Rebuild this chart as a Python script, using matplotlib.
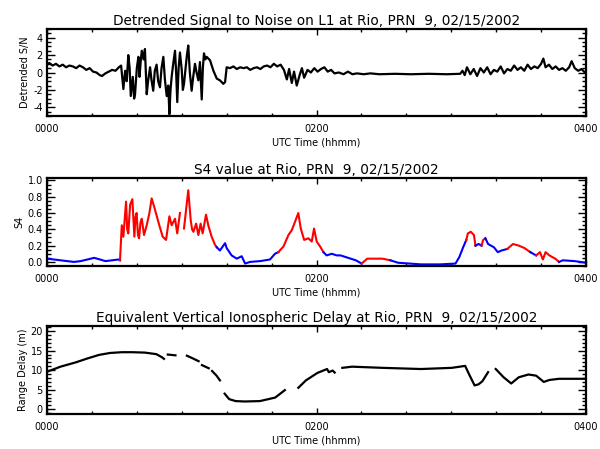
import numpy as np
import matplotlib
matplotlib.use("Agg")
import matplotlib.pyplot as plt
from matplotlib.ticker import MultipleLocator, FormatStrFormatter

# ---------------- data (time in minutes after 0000 UTC) ----------------
snr_t = [0, 1, 2.5, 4, 5.5, 7, 8.5, 10, 11.5, 13, 14.5, 16, 17.5, 19, 20.5, 22, 23.5, 24.5,
         26, 27.5, 29, 30.5, 32, 33,
         34, 34.8, 35.5, 36.2, 36.8, 37.3, 38.2, 38.8, 39.2, 40.0, 40.7, 41.2, 41.7, 42.2,
         43.0, 43.6, 44.4, 45.0, 45.9, 46.5, 47.3, 48.0, 48.8, 49.5, 50.3, 51.0, 51.8, 52.5,
         53.3, 54.0, 54.5, 55.0, 55.5, 56.2, 57.0, 57.5, 58.0, 58.6, 59.2, 60.0, 60.5, 61.0,
         61.8, 62.3, 62.9, 63.6, 64.4, 65.1, 65.9, 66.6, 67.4, 68.1, 68.9, 69.4, 69.9, 70.5,
         71.1, 72.6, 74.1, 75.6, 77.0, 78.5, 79.3, 80.0,
         81.5, 83, 84.5, 86, 87.5, 89, 90.5, 92, 93.5, 95, 96.5, 98, 99.5, 101, 102.5, 104,
         105.5, 106.8, 107.8, 109, 110, 111.2, 112.5, 113.5, 114.5, 116, 117.5, 119, 120.5,
         122, 123.5, 125, 126.5, 128, 130, 132, 134, 136, 138, 141, 144, 148, 155, 162, 170,
         178, 184, 185, 186, 187, 188.5, 190, 191.5, 193, 194.5, 196, 197.5, 199, 200.5, 202,
         203.5, 205, 206.5, 208, 209.5, 211, 212.5, 214, 215.5, 217, 218.5, 220, 221, 222,
         223.5, 225, 226.5, 228, 229.5, 231, 232.5, 233.6, 235, 236.5, 238, 239.5, 240]
snr_v = [0.9, 1.1, 0.8, 1.0, 0.7, 0.9, 0.6, 0.8, 0.7, 0.5, 0.8, 0.6, 0.3, 0.5, 0.1, 0.0, -0.3, -0.4,
         -0.1, 0.1, 0.3, 0.2, 0.6, 0.8,
         -1.9, 0.2, -1.0, 2.0, 0.5, -2.7, -0.5, -3.0, -2.5, 0.5, 1.8, -0.5, 1.2, 2.5,
         1.5, 2.7, -2.5, -1.0, 0.6, -0.8, -2.1, 0.2, 0.9, -1.0, -1.7, 0.5, 1.8, -0.8,
         -2.7, -1.5, -4.8, -2.0, -0.5, 1.0, 2.5, 0.0, -3.4, 0.5, 2.3, 0.3, -2.0, -1.3,
         0.8, 2.0, 3.1, 0.0, -2.1, -0.5, 1.0, 0.0, -0.9, 1.2, -3.1, 0.5, 2.2, 1.5,
         1.8, 1.4, 0.2, -0.7, -0.9, -1.3, -1.1, 0.6,
         0.5, 0.7, 0.4, 0.6, 0.5, 0.6, 0.3, 0.5, 0.6, 0.4, 0.7, 0.8, 0.6, 1.0, 0.7, 0.9,
         0.3, -0.8, 0.4, -1.2, 0.1, -1.5, -0.3, 0.5, -0.6, 0.3, 0.0, 0.5, 0.1,
         0.4, 0.6, 0.1, 0.3, -0.1, 0.0, -0.2, 0.1, -0.2, -0.1, -0.2, -0.1, -0.2, -0.15, -0.2, -0.15,
         -0.2, -0.15, 0.2, -0.3, 0.6, -0.2, 0.4, -0.4, 0.5, 0.0, 0.6, -0.2, 0.3, 0.1, 0.7,
         -0.1, 0.4, 0.2, 0.8, 0.3, 0.6, 0.2, 0.9, 0.4, 0.7, 0.5, 1.0, 1.6, 0.6,
         0.9, 0.4, 0.7, 0.3, 0.5, 0.2, 0.6, 1.3, 0.5, 0.2, 0.4, 0.0, 0.1]

s4_t = [0, 3, 6, 9, 12, 15, 18, 21, 23.6, 26, 29, 31.8, 32.5, 33.3, 34.0, 35.2, 35.7, 36.2,
        37.0, 38.0, 38.9, 39.4, 39.9, 40.5, 41.0, 41.6, 42.2, 43.2, 44.4, 45.6, 46.6, 48.1,
        50.0, 51.5, 53.0, 54.5, 55.5, 57.0, 58.0, 59.2, 60.0, 61.0, 62.9, 64.0, 64.6, 65.2,
        66.4, 67.4, 68.4, 69.3, 70.8, 71.8, 73.3, 74.8, 75.6, 77.0, 78.5, 79.3, 80.0, 82.2,
        84.5, 86.7, 88.2, 90.4, 94.9, 99.3, 101.5, 103.0, 105.3, 107.5, 109.0, 110.4, 111.9,
        113.0, 114.5, 116.4, 117.9, 118.9, 120.1, 121.6, 123.1, 124.5, 126.8, 129.0, 130.7,
        134.1, 137.5, 140.1, 142.6, 149.4, 152.9, 156.3, 166.5, 175.1, 181.9, 183.6, 185.3,
        186.7, 187.4, 188.7, 190.1, 190.8, 192.2, 193.5, 194.2, 195.2, 196.4, 199.0, 200.7,
        202.4, 205.0, 205.8, 207.5, 210.1, 212.6, 215.2, 217.8, 219.5, 220.8, 222.0, 223.7,
        226.3, 228.0, 229.7, 234.9, 240]
s4_v = [0.04, 0.03, 0.02, 0.01, 0.00, 0.01, 0.03, 0.05, 0.03, 0.01, 0.02, 0.03, 0.02, 0.45, 0.31,
        0.74, 0.40, 0.35, 0.70, 0.77, 0.31, 0.55, 0.60, 0.33, 0.29, 0.48, 0.53, 0.33,
        0.45, 0.60, 0.78, 0.64, 0.45, 0.31, 0.27, 0.56, 0.45, 0.53, 0.35, 0.60, np.nan,
        0.41, 0.88, 0.51, 0.40, 0.37, 0.47, 0.33, 0.47, 0.35, 0.58, 0.45, 0.31, 0.21, 0.18,
        0.14, 0.20, 0.23, 0.17, 0.08, 0.04, 0.07, -0.02, 0.0, 0.01, 0.03, 0.10, 0.12, 0.19,
        0.33, 0.39, 0.49, 0.60, 0.41, 0.27, 0.29, 0.25, 0.41, 0.25, 0.19, 0.12, 0.08, 0.10,
        0.08, 0.08, 0.05, 0.02, -0.02, 0.04, 0.04, 0.02, -0.01, -0.03, -0.03, -0.02, 0.06,
        0.18, 0.27, 0.35, 0.37, 0.33, 0.20, 0.22, 0.20, 0.27, 0.29, 0.22, 0.18, 0.12, 0.14,
        0.16, 0.18, 0.22, 0.20, 0.17, 0.12, 0.08, 0.12, 0.03, 0.12, 0.08, 0.04, 0.00, 0.02,
        0.01, -0.01]
s4_c = ['b', 'b', 'b', 'b', 'b', 'b', 'b', 'b', 'b', 'b', 'b', 'b', 'r', 'r', 'r', 'r', 'r', 'r',
        'r', 'r', 'r', 'r', 'r', 'r', 'r', 'r', 'r', 'r', 'r', 'r', 'r', 'r',
        'r', 'r', 'r', 'r', 'r', 'r', 'r', 'r', 'r', 'r', 'r', 'r', 'r', 'r',
        'r', 'r', 'r', 'r', 'r', 'r', 'r', 'r',
        'b', 'b', 'b', 'b', 'b', 'b', 'b', 'b', 'b', 'b', 'b', 'b', 'b',
        'r', 'r', 'r', 'r', 'r', 'r', 'r', 'r', 'r', 'r', 'r', 'r', 'r',
        'b', 'b', 'b', 'b', 'b', 'b', 'b', 'r', 'r', 'r', 'b',
        'b', 'b', 'b', 'b', 'b', 'b', 'r', 'r', 'r', 'r', 'b', 'b',
        'r', 'r', 'b', 'b', 'b', 'b', 'b', 'r', 'r', 'r', 'r', 'r',
        'b', 'r', 'r', 'r', 'r', 'r', 'r', 'b', 'b', 'b', 'b']

delay_t = [0, 6, 12.8, 18, 23.1, 28, 33.3, 38, 43.6, 48.7, 51.2, 52.1, 52.9, 53.8, 57.2, 59.5,
           62.3, 65, 67.5, 68.2, 69.0, 72.0, 72.8, 73.5, 75.5, 77.0, 78.0, 79.1, 81.1, 84,
           88.0, 94.8, 101.6, 105.9, 108.5, 111.9, 115.3, 120.4, 124.7, 125.5, 127.2, 128.1,
           129.8, 131.5, 135.8, 149.5, 166.5, 180.2, 186.2, 187.9, 190.4, 192.2, 193.9, 196.4,
           198.0, 199.8, 203.3, 206.7, 210.1, 214.4, 217.8, 221.2, 223.7, 228.0, 240]
delay_v = [9.6, 10.9, 12.0, 13.0, 13.9, 14.4, 14.6, 14.6, 14.5, 14.1, 13.3, 12.9, np.nan, 14.0, 13.8, np.nan,
           13.7, 13.0, 12.3, np.nan, 11.3, 10.5, np.nan, 9.8, 8.6, 7.4, np.nan, 4.0, 2.6, 2.1,
           2.0, 2.1, 3.0, 4.9, np.nan, 5.5, 7.4, 9.3, 10.3, 9.5, 9.9, 9.4,
           np.nan, 10.6, 10.9, 10.6, 10.3, 10.6, 11.1, 9.0, 6.1, 6.4, 7.2, 9.5,
           np.nan, 10.3, 8.2, 6.6, 8.2, 8.9, 8.6, 7.0, 7.5, 7.8, 7.8]

xtick_labels = ['0000', '0200', '0400']
titles = ['Detrended Signal to Noise on L1 at Rio, PRN  9, 02/15/2002',
          'S4 value at Rio, PRN  9, 02/15/2002',
          'Equivalent Vertical Ionospheric Delay at Rio, PRN  9, 02/15/2002']
ylabels = ['Detrended S/N', 'S4', 'Range Delay (m)']

# ---------------- figure ----------------
plt.rcParams['font.family'] = ['DejaVu Sans']
fig = plt.figure(figsize=(6.0, 4.49), dpi=100)
W, H = 600.0, 449.0
left, right = 47, 586
boxes = [(29, 116), (178, 266), (326, 414)]
axes = [fig.add_axes([left / W, 1 - b / H, (right - left) / W, (b - t) / H]) for t, b in boxes]


def style(ax, title, ylabel, ylim, major, minor, fmt):
    ax.set_xlim(0, 4)
    ax.set_ylim(*ylim)
    ax.set_xticks([0, 2, 4])
    ax.set_xticklabels(xtick_labels)
    ax.xaxis.set_minor_locator(MultipleLocator(1 / 3))
    ax.yaxis.set_major_locator(MultipleLocator(major))
    ax.yaxis.set_minor_locator(MultipleLocator(minor))
    ax.yaxis.set_major_formatter(FormatStrFormatter(fmt))
    ax.tick_params(which='both', direction='in', top=True, right=True, width=1.0,
                   labelsize=7, colors='black')
    ax.tick_params(axis='y', which='major', length=6, pad=3)
    ax.tick_params(axis='y', which='minor', length=3)
    ax.tick_params(axis='x', which='major', length=4, pad=6)
    ax.tick_params(axis='x', which='minor', length=2)
    for s in ax.spines.values():
        s.set_linewidth(1.6)
    ax.set_title(title, fontsize=9.8, pad=3)
    ax.set_ylabel(ylabel, fontsize=7, labelpad=2)
    ax.set_xlabel('UTC Time (hhmm)', fontsize=7, labelpad=2)


# panel 1
a1 = axes[0]
a1.plot(np.array(snr_t) / 60.0, snr_v, color='black', lw=1.6)
style(a1, titles[0], ylabels[0], (-5, 5), 2, 0.5, '%d')

# panel 2 (colored runs)
a2 = axes[1]
tt = np.array(s4_t) / 60.0
vv = np.array(s4_v, dtype=float)
cmap = {'r': '#ff0000', 'b': '#0000ff'}
i = 0
n = len(tt)
while i < n - 1:
    j = i
    while j + 1 < n - 1 and s4_c[j + 1] == s4_c[i]:
        j += 1
    a2.plot(tt[i:j + 2], vv[i:j + 2], color=cmap[s4_c[i]], lw=1.5, solid_joinstyle='round')
    i = j + 1
style(a2, titles[1], ylabels[1], (-0.05, 1.03), 0.2, 0.05, '%.1f')

# panel 3
a3 = axes[2]
a3.plot(np.array(delay_t) / 60.0, delay_v, color='black', lw=1.6)
style(a3, titles[2], ylabels[2], (-1.2, 21.3), 5, 1, '%d')

fig.savefig('out.png', dpi=100)
